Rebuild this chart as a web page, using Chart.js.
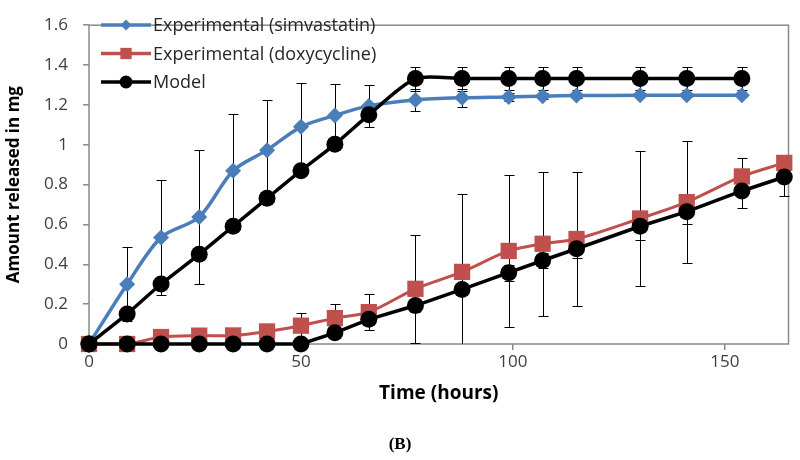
<!DOCTYPE html>
<html><head><meta charset="utf-8">
<script src="https://cdn.jsdelivr.net/npm/chart.js@4.4.0/dist/chart.umd.min.js"></script>
<style>
html,body{margin:0;padding:0;background:#fff;}
#wrap{position:relative;width:800px;height:460px;}
#c{display:block;}
#caption{position:absolute;left:0;width:800px;top:434px;text-align:center;font:bold 17px "Liberation Serif","Times New Roman",serif;color:#000;line-height:20px;}
</style></head><body>
<div id="wrap"><canvas id="c" width="800" height="460"></canvas><div id="caption">(B)</div></div>
<script>
// ---- data ----
const simTime = [0,9,17,26,34,42,50,58,66,77,88,99,107,115,130,141,154];
const doxTime = [0,9,17,26,34,42,50,58,66,77,88,99,107,115,130,141,154,164];
const simExp    = [0,0.30,0.535,0.637,0.87,0.973,1.09,1.147,1.195,1.225,1.236,1.24,1.244,1.247,1.248,1.248,1.248];
const simExpErr = [0,0.185,0.29,0.337,0.285,0.25,0.218,0.16,0.105,0.055,0.045,0.02,0.015,0.01,0.01,0.01,0.01];
const doxExp    = [0,0,0.035,0.042,0.043,0.063,0.092,0.13,0.16,0.277,0.362,0.467,0.503,0.527,0.63,0.712,0.841,0.909];
const doxExpErr = [0,0,0.01,0.01,0.01,0.01,0.064,0.07,0.09,0.27,0.39,0.38,0.362,0.338,0.34,0.306,0.092,0.042];
const simModel    = [0,0.151,0.301,0.45,0.591,0.731,0.87,1.002,1.15,1.332,1.332,1.332,1.332,1.332,1.332,1.332,1.332];
const simModelErr = [0,0,0,0,0,0,0,0,0,0.06,0.06,0.057,0.057,0.057,0.057,0.057,0.057];
const doxModel    = [0,0,0,0,0,0,0,0.056,0.124,0.193,0.274,0.358,0.419,0.478,0.591,0.664,0.768,0.838];
const doxModelErr = [0,0,0,0,0,0,0,0,0.02,0.03,0.03,0.04,0.04,0.048,0.07,0.064,0.083,0.094];
const xTicks = [0,50,100,150];
const yTickLabels = ['0','0.2','0.4','0.6','0.8','1','1.2','1.4','1.6'];
const seriesNames = ['Experimental (simvastatin)','Experimental (doxycycline)','Model'];

const BLUE='#4A7EBB', RED='#C0504D', BLACK='#000000';
const pts = (xs, ys) => xs.map((x,i)=>({x:x, y:ys[i]}));
const FONT = '"Open Sans", "DejaVu Sans", sans-serif';

const boxPlugin = {
  id:'box',
  beforeDatasetsDraw(chart){
    const {ctx, chartArea:a} = chart;
    ctx.save();
    ctx.strokeStyle='#8a8a8a'; ctx.lineWidth=1.5;
    ctx.strokeRect(a.left, a.top, a.right-a.left, a.bottom-a.top);
    const xs=chart.scales.x, ys=chart.scales.y;
    ctx.beginPath(); ctx.rect(a.left-6, a.top, a.right-a.left+12, a.bottom-a.top); ctx.clip();
    ctx.strokeStyle='#000'; ctx.lineWidth=1;
    chart.data.datasets.forEach(ds=>{
      if(!ds.err) return;
      ds.data.forEach((p,i)=>{
        const e=ds.err[i]; if(!e) return;
        const px=Math.round(xs.getPixelForValue(p.x))+0.5;
        const t=Math.round(ys.getPixelForValue(p.y+e))+0.5, b=Math.round(ys.getPixelForValue(p.y-e))+0.5;
        ctx.beginPath(); ctx.moveTo(px,t); ctx.lineTo(px,b);
        ctx.moveTo(px-5,t); ctx.lineTo(px+5,t);
        ctx.moveTo(px-5,b); ctx.lineTo(px+5,b);
        ctx.stroke();
      });
    });
    ctx.restore();
  }
};

function marker(ctx, style, x, y, r, color){
  ctx.fillStyle=color;
  ctx.beginPath();
  if(style==='rectRot'){ ctx.moveTo(x-r,y); ctx.lineTo(x,y-r); ctx.lineTo(x+r,y); ctx.lineTo(x,y+r); ctx.closePath(); }
  else if(style==='rect'){ const s=r*Math.SQRT1_2; ctx.rect(x-s,y-s,2*s,2*s); }
  else { ctx.arc(x,y,r,0,Math.PI*2); }
  ctx.fill();
}

const legendPlugin = {
  id:'customLegend',
  afterDraw(chart){
    const ctx=chart.ctx;
    const items=[
      {c:BLUE, s:'rectRot', r:5.5},
      {c:RED, s:'rect', r:8},
      {c:BLACK, s:'circle', r:6.5}
    ];
    ctx.save();
    items.forEach((it,i)=>{
      const y=25+i*28.5;
      ctx.strokeStyle=it.c; ctx.lineWidth=3.5;
      ctx.beginPath(); ctx.moveTo(101,y); ctx.lineTo(151,y); ctx.stroke();
      marker(ctx,it.s,126,y,it.r,it.c);
      ctx.fillStyle='#262626'; ctx.font='18px '+FONT; ctx.textBaseline='middle'; ctx.textAlign='left';
      ctx.fillText(seriesNames[i],153,y+1);
    });
    ctx.restore();
  }
};

new Chart(document.getElementById('c'), {
  type:'line',
  data:{
    datasets:[
      {label:seriesNames[2], data:pts(simTime,simModel), err:simModelErr, borderColor:BLACK, backgroundColor:BLACK,
       borderWidth:3.5, pointStyle:'circle', pointRadius:8.5, pointBorderWidth:0, tension:0.25, order:0, clip:false},
      {label:seriesNames[2]+' (doxycycline)', data:pts(doxTime,doxModel), err:doxModelErr, borderColor:BLACK, backgroundColor:BLACK,
       borderWidth:3.5, pointStyle:'circle', pointRadius:8.5, pointBorderWidth:0, tension:0, order:1, clip:false},
      {label:seriesNames[0], data:pts(simTime,simExp), err:simExpErr, borderColor:BLUE, backgroundColor:BLUE,
       borderWidth:3.5, pointStyle:'rectRot', pointRadius:8, pointBorderWidth:0, tension:0.3, order:2, clip:false},
      {label:seriesNames[1], data:pts(doxTime,doxExp), err:doxExpErr, borderColor:RED, backgroundColor:RED,
       borderWidth:3, pointStyle:'rect', pointRadius:11.5, pointBorderWidth:0, tension:0.3, order:3, clip:false}
    ]
  },
  options:{
    responsive:false, animation:false, devicePixelRatio:1,
    layout:{padding:{left:0,top:13,right:9,bottom:55}},
    plugins:{legend:{display:false}, tooltip:{enabled:false}},
    scales:{
      x:{type:'linear', min:0, max:165,
        afterBuildTicks:s=>{ s.ticks = xTicks.map(v=>({value:v})); },
        afterFit:s=>{ s.height=61; },
        grid:{display:true, drawOnChartArea:false, drawTicks:true, tickLength:6, color:'#8a8a8a', lineWidth:1.5},
        border:{display:false},
        ticks:{font:{family:FONT,size:17}, color:'#404040', padding:2, maxRotation:0},
        title:{display:true, text:'Time (hours)', font:{family:FONT,size:19,weight:'bold'}, color:'#000', padding:{top:0,bottom:0}}
      },
      y:{min:0, max:1.6,
        afterFit:s=>{ s.width=89; },
        grid:{display:true, drawOnChartArea:false, drawTicks:true, tickLength:6, color:'#8a8a8a', lineWidth:1.5},
        border:{display:false},
        ticks:{stepSize:0.2, font:{family:FONT,size:17}, color:'#404040', padding:15,
          callback:(v,i)=>yTickLabels[i]},
        title:{display:true, text:'Amount released in mg', font:{family:FONT,size:17,weight:'bold'}, color:'#000', padding:{top:4,bottom:0}}
      }
    }
  },
  plugins:[boxPlugin, legendPlugin]
});
</script>
</body></html>
